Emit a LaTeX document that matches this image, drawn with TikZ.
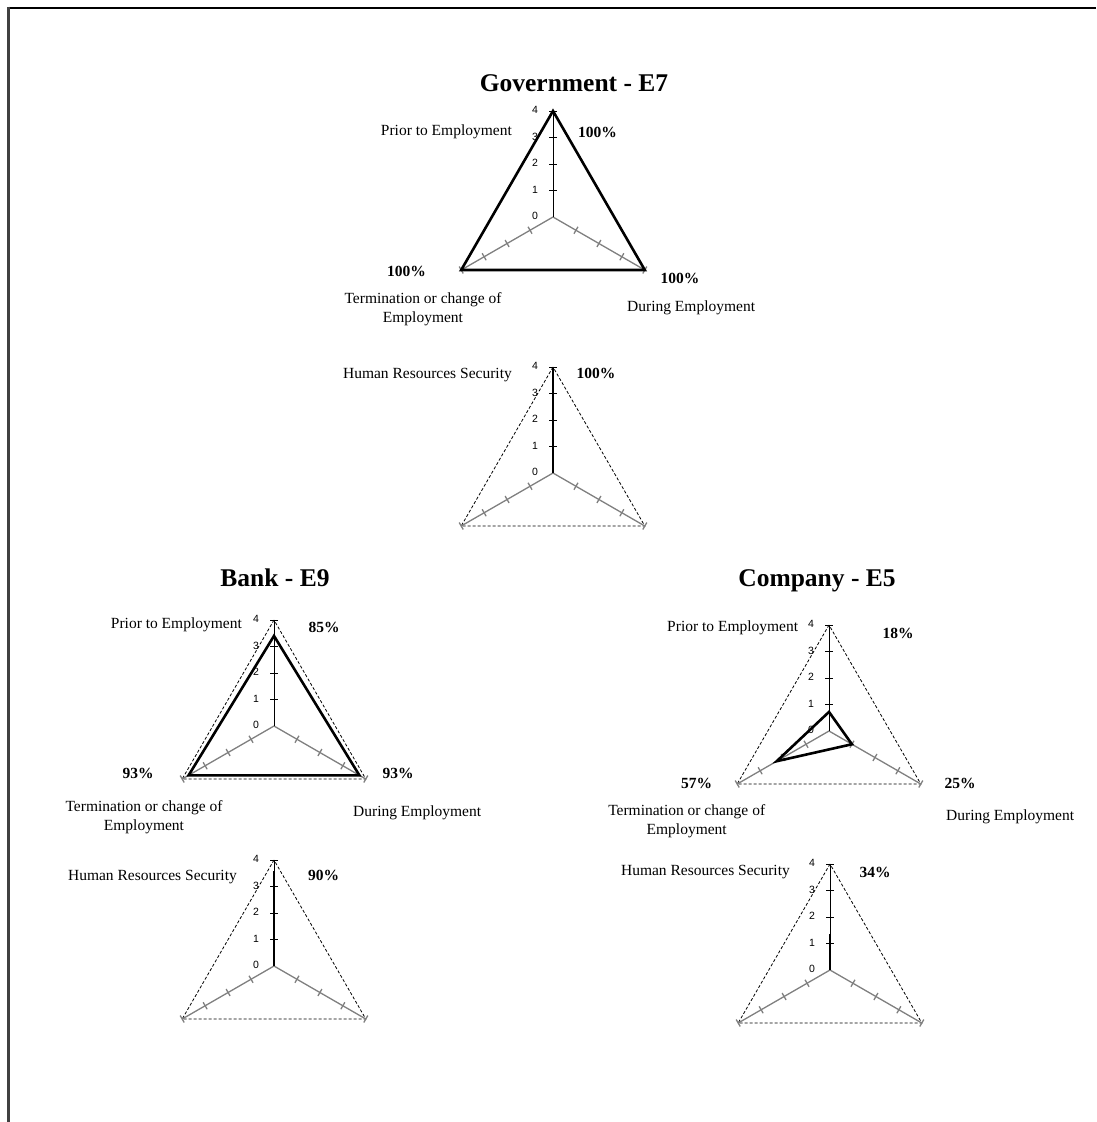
\documentclass[tikz,border=0pt]{standalone}
\usepackage{fontspec}
\setmainfont{Liberation Serif}
\newfontfamily\axisfont{Liberation Sans}
\definecolor{axgray}{gray}{0.5}
\definecolor{edgegray}{gray}{0.25}
\begin{document}
\begin{tikzpicture}[x=1pt,y=-1pt,
  lbl/.style={font=\fontsize{15.5}{18.5}\selectfont, inner sep=0pt, align=center},
  pct/.style={font=\fontsize{15.5}{18}\selectfont\bfseries, inner sep=0pt},
  ttl/.style={font=\fontsize{25.5}{30}\selectfont\bfseries, inner sep=0pt, anchor=base},
  numlbl/.style={font=\axisfont\fontsize{10.5}{12}\selectfont, inner sep=0pt},
  axisv/.style={line width=0.9pt, black},
  axisg/.style={line width=1.3pt, axgray},
  ring/.style={dash pattern=on 3pt off 2pt, line width=0.8pt, black},
  datapoly/.style={line width=2.6pt, black},
  radarframe/.pic={
    % outer ring at value 4
    \draw[ring] (0,-106) -- (-91.8,53) -- (91.8,53) -- cycle;
    % lower axes with perpendicular ticks
    \draw[axisg] (0,0) -- (-91.8,53);
    \draw[axisg] (0,0) -- (91.8,53);
    \foreach \k in {1,...,4} {
      \draw[axisg] ({-22.95*\k-2},{13.25*\k-3.46}) -- ({-22.95*\k+2},{13.25*\k+3.46});
      \draw[axisg] ({22.95*\k+2},{13.25*\k-3.46}) -- ({22.95*\k-2},{13.25*\k+3.46});
      \draw[axisv] (-4,{-26.5*\k}) -- (4,{-26.5*\k});
    }
    % value axis
    \draw[axisv] (0,0) -- (0,-106);
    \foreach \k in {0,...,4}
      \node[numlbl] at (-18,{-26.5*\k-1}) {\k};
  }
]
\useasboundingbox (0,0) rectangle (1096,1122);
\fill[white] (0,0) rectangle (1096,1122);

% page frame (top and left edges)
\draw[line width=2pt, black] (7,7.5) -- (1096,7.5);
\draw[line width=2.6pt, edgegray] (8.7,6.5) -- (8.7,1122);

% ---------------- Government - E7 ----------------
\node[ttl] (gtitle) at (574,91.5) {Government - E7};

\pic at (553,217) {radarframe};
\begin{scope}[shift={(553,217)}]
  \coordinate (g1a) at (0,-106);
  \coordinate (g1b) at (91.8,53);
  \coordinate (g1c) at (-91.8,53);
\end{scope}
\draw[datapoly] (g1a) -- (g1b) -- (g1c) -- cycle;

\node[lbl, anchor=east] (g1prior) at (512,131.5) {Prior to Employment};
\node[pct] (g1pa) at (597.5,132) {100\%};
\node[pct] (g1pb) at (680,278) {100\%};
\node[pct] (g1pc) at (406.5,271.5) {100\%};
\node[lbl] (g1term) at (423,309) {Termination or change of\\Employment};
\node[lbl, anchor=west] (g1during) at (627,308) {During Employment};

\pic at (553,473) {radarframe};
\begin{scope}[shift={(553,473)}]
  \coordinate (g2o) at (0,0);
  \coordinate (g2a) at (0,-106);
\end{scope}
\draw[datapoly] (g2o) -- (g2a);

\node[lbl, anchor=east] (g2hrs) at (512,375) {Human Resources Security};
\node[pct] (g2p) at (596,373.5) {100\%};

% ---------------- Bank - E9 ----------------
\node[ttl] (btitle) at (275,586.5) {Bank - E9};

\pic at (274,726) {radarframe};
\begin{scope}[shift={(274,726)}]
  \coordinate (b1a) at (0,{-26.5*3.4});
  \coordinate (b1b) at ({22.95*3.72},{13.25*3.72});
  \coordinate (b1c) at ({-22.95*3.72},{13.25*3.72});
\end{scope}
\draw[datapoly] (b1a) -- (b1b) -- (b1c) -- cycle;

\node[lbl, anchor=east] (b1prior) at (242,625) {Prior to Employment};
\node[pct] (b1pa) at (324,627) {85\%};
\node[pct] (b1pb) at (398,773.5) {93\%};
\node[pct] (b1pc) at (138,773.5) {93\%};
\node[lbl] (b1term) at (144,817) {Termination or change of\\Employment};
\node[lbl, anchor=west] (b1during) at (353,813) {During Employment};

\pic at (274,966) {radarframe};
\begin{scope}[shift={(274,966)}]
  \coordinate (b2o) at (0,0);
  \coordinate (b2a) at (0,{-26.5*3.6});
\end{scope}
\draw[datapoly] (b2o) -- (b2a);

\node[lbl, anchor=east] (b2hrs) at (237,877) {Human Resources Security};
\node[pct] (b2p) at (323.5,875) {90\%};

% ---------------- Company - E5 ----------------
\node[ttl] (ctitle) at (817,586.5) {Company - E5};

\pic at (829,731) {radarframe};
\begin{scope}[shift={(829,731)}]
  \coordinate (c1a) at (0,{-26.5*0.72});
  \coordinate (c1b) at ({22.95*1.0},{13.25*1.0});
  \coordinate (c1c) at ({-22.95*2.28},{13.25*2.28});
\end{scope}
\draw[datapoly] (c1a) -- (c1b) -- (c1c) -- cycle;

\node[lbl, anchor=east] (c1prior) at (798.3,628) {Prior to Employment};
\node[pct] (c1pa) at (898,633) {18\%};
\node[pct] (c1pb) at (960,783) {25\%};
\node[pct] (c1pc) at (696.7,783.3) {57\%};
\node[lbl] (c1term) at (686.7,821) {Termination or change of\\Employment};
\node[lbl, anchor=west] (c1during) at (946,817) {During Employment};

\pic at (830,970) {radarframe};
\begin{scope}[shift={(830,970)}]
  \coordinate (c2o) at (0,0);
  \coordinate (c2a) at (0,{-26.5*1.36});
\end{scope}
\draw[datapoly] (c2o) -- (c2a);

\node[lbl, anchor=east] (c2hrs) at (790,872.3) {Human Resources Security};
\node[pct] (c2p) at (875,872) {34\%};
\end{tikzpicture}
\end{document}
